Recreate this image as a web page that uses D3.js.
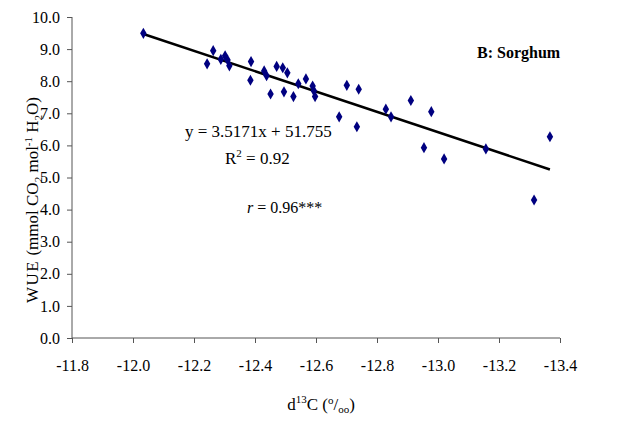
<!DOCTYPE html>
<html>
<head>
<meta charset="utf-8">
<script src="https://cdn.jsdelivr.net/npm/d3@7"></script>
<style>
  body { margin: 0; background: #fff; }
  svg { display: block; }
  svg text { font-family: "Liberation Serif", "Times New Roman", "DejaVu Serif", serif; fill: #000; }
</style>
</head>
<body>
<svg id="chart" width="635" height="425"></svg>
<script>
// ---- data ----
const d13C = [-12.034, -12.263, -12.243, -12.288, -12.302, -12.310, -12.316, -12.387, -12.385,
  -12.430, -12.438, -12.451, -12.471, -12.491, -12.506, -12.495, -12.526, -12.542, -12.567,
  -12.589, -12.593, -12.597, -12.676, -12.701, -12.734, -12.740, -12.829, -12.846, -12.911,
  -12.978, -12.954, -13.020, -13.157, -13.367, -13.315];
const wue = [9.49, 8.95, 8.54, 8.68, 8.79, 8.66, 8.48, 8.61, 8.03,
  8.32, 8.17, 7.60, 8.46, 8.42, 8.26, 7.67, 7.52, 7.92, 8.07,
  7.85, 7.70, 7.52, 6.89, 7.87, 6.58, 7.75, 7.13, 6.89, 7.40,
  7.05, 5.93, 5.58, 5.89, 6.27, 4.30];
const trendX = [-12.034, -13.367];
const trendY = [9.47, 5.25];
const xTicks = [-11.8, -12.0, -12.2, -12.4, -12.6, -12.8, -13.0, -13.2, -13.4];
const yTicks = [0, 1, 2, 3, 4, 5, 6, 7, 8, 9, 10];
const panelLabel = "B: Sorghum";
const eqText = "y = 3.5171x + 51.755";
const r2Text = "0.92";
const rText = "0.96***";

// ---- layout ----
const svg = d3.select("#chart");
const x = d3.scaleLinear().domain([-11.8, -13.4]).range([72, 560]);
const y = d3.scaleLinear().domain([0, 10]).range([338, 17]);
const FONT = '"Liberation Serif", "Times New Roman", serif';

// axes
const xAxis = d3.axisBottom(x).tickValues(xTicks).tickSize(5).tickPadding(17)
  .tickFormat(d => d3.format(".1f")(d).replace("\u2212", "-"));
const gx = svg.append("g").attr("transform", "translate(0,338)").call(xAxis)
  .attr("font-family", FONT).attr("font-size", 16);
gx.select(".domain").attr("stroke", "#555").attr("d", "M72,0H560");
gx.selectAll(".tick line").attr("stroke", "#555");

const yAxis = d3.axisLeft(y).tickValues(yTicks).tickSize(5).tickPadding(7)
  .tickFormat(d3.format(".1f"));
const gy = svg.append("g").attr("transform", "translate(72,0)").call(yAxis)
  .attr("font-family", FONT).attr("font-size", 16);
gy.select(".domain").attr("stroke", "#555").attr("d", "M0,17V338");
gy.selectAll(".tick line").attr("stroke", "#555");

// trend line
svg.append("path")
  .datum(trendX.map((v, i) => [v, trendY[i]]))
  .attr("fill", "none").attr("stroke", "#000").attr("stroke-width", 2.5)
  .attr("d", d3.line().x(d => x(d[0])).y(d => y(d[1])));

// points (diamonds)
const sym = d3.symbol().type(d3.symbolDiamond).size(36);
svg.append("g").selectAll("path")
  .data(d13C.map((v, i) => [v, wue[i]]))
  .join("path")
  .attr("transform", d => `translate(${x(d[0])},${y(d[1])})`)
  .attr("d", sym)
  .attr("fill", "#000080");

// annotations
svg.append("text").attr("x", 477).attr("y", 58).attr("font-size", 16)
  .attr("font-weight", "bold").text(panelLabel);

svg.append("text").attr("x", 185).attr("y", 137).attr("font-size", 17).text(eqText);

const r2 = svg.append("text").attr("x", 225).attr("y", 164).attr("font-size", 17);
r2.append("tspan").text("R");
r2.append("tspan").attr("dy", -7).attr("font-size", 11).text("2");
r2.append("tspan").attr("dy", 7).text(" = " + r2Text);

const rr = svg.append("text").attr("x", 247).attr("y", 213).attr("font-size", 16);
rr.append("tspan").attr("font-style", "italic").text("r");
rr.append("tspan").text(" = " + rText);

// y title
const yt = svg.append("text")
  .attr("transform", "translate(38,200) rotate(-90)")
  .attr("text-anchor", "middle").attr("font-size", 17);
yt.append("tspan").attr("letter-spacing", 1.5).text("WUE");
yt.append("tspan").text(" (mmol CO");
yt.append("tspan").attr("dy", 4).attr("font-size", 11).text("2");
yt.append("tspan").attr("dy", -4).text(" mol");
yt.append("tspan").attr("dy", -6).attr("font-size", 11).text("-1");
yt.append("tspan").attr("dy", 6).text(" H");
yt.append("tspan").attr("dy", 4).attr("font-size", 11).text("2");
yt.append("tspan").attr("dy", -4).text("O)");

// x title
const xt = svg.append("text").attr("x", 321).attr("y", 410)
  .attr("text-anchor", "middle").attr("font-size", 17);
xt.append("tspan").text("d");
xt.append("tspan").attr("dy", -7).attr("font-size", 11).text("13");
xt.append("tspan").attr("dy", 7).text("C (");
xt.append("tspan").attr("dy", -6).attr("font-size", 11).text("o");
xt.append("tspan").attr("dy", 6).text("/");
xt.append("tspan").attr("dy", 3).attr("font-size", 11).text("oo");
xt.append("tspan").attr("dy", -3).text(")");
</script>
</body>
</html>
